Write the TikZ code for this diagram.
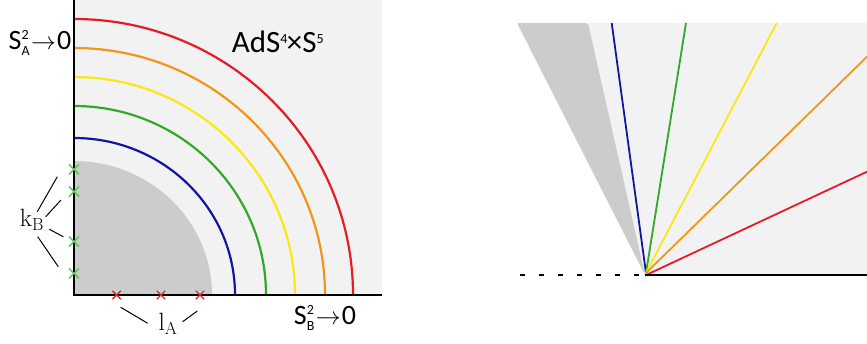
\documentclass[tikz,border=0pt]{standalone}
\usepackage{fontspec}
\newfontfamily\calib{Carlito}
\definecolor{bgl}{RGB}{242,242,242}
\definecolor{bgd}{RGB}{204,204,204}
\definecolor{cred}{RGB}{228,28,40}
\definecolor{corange}{RGB}{240,150,24}
\definecolor{cyellow}{RGB}{250,232,20}
\definecolor{cgreen}{RGB}{50,168,40}
\definecolor{cblue}{RGB}{20,20,160}
\definecolor{xgreen}{RGB}{90,195,90}
\definecolor{xred}{RGB}{220,40,40}
\tikzset{
  axis/.style={line width=2pt,black},
  curve/.style={line width=2.2pt},
  ray/.style={line width=1.8pt},
  ptr/.style={line width=1pt,black},
  gx/.style={draw=xgreen,line width=1.4pt},
  rx/.style={draw=xred,line width=1.4pt},
  sanslab/.style={font=\calib\fontsize{28}{30}\selectfont,inner sep=0pt},
  adslab/.style={font=\calib\fontsize{31}{33}\selectfont,inner sep=0pt},
  serlab/.style={font=\fontsize{25}{28}\selectfont,inner sep=0pt}
}
\newcommand{\smallsans}[1]{\hbox{\calib\fontsize{14}{14}\selectfont #1}}
\newcommand{\cross}[3]{\draw[#1] ($(#2)+(-#3,-#3)$) -- ($(#2)+(#3,#3)$) ($(#2)+(-#3,#3)$) -- ($(#2)+(#3,-#3)$);}
\usetikzlibrary{calc}
\begin{document}
\begin{tikzpicture}[x=1pt,y=1pt]
\useasboundingbox (0,0) rectangle (867,343);
% ---------- left panel ----------
\coordinate (O) at (74,48);
\fill[bgl] (74,48) rectangle (382,343);
\fill[bgd] (O) -- ++(138,0) arc[start angle=0,end angle=90,x radius=138pt,y radius=134pt] -- cycle;
\draw[curve,cblue]   (O) ++(161,0) arc[start angle=0,end angle=90,x radius=161pt,y radius=157pt];
\draw[curve,cgreen]  (O) ++(192,0) arc[start angle=0,end angle=90,x radius=192pt,y radius=189pt];
\draw[curve,cyellow] (O) ++(221,0) arc[start angle=0,end angle=90,x radius=221pt,y radius=218pt];
\draw[curve,corange] (O) ++(251,0) arc[start angle=0,end angle=90,x radius=251pt,y radius=247pt];
\draw[curve,cred]    (O) ++(279,0) arc[start angle=0,end angle=90,x radius=279pt,y radius=276pt];
\coordinate (ytop) at (74,343);
\coordinate (xend) at (382,48);
\draw[axis] (ytop) -- (O) -- (xend);
% crosses
\coordinate (g1) at (74,173.7);
\coordinate (g2) at (74,151.3);
\coordinate (g3) at (74,101.3);
\coordinate (g4) at (74,69.7);
\coordinate (r1) at (116.7,48);
\coordinate (r2) at (161,48);
\coordinate (r3) at (200,48);
\cross{gx}{g1}{5}
\cross{gx}{g2}{5}
\cross{gx}{g3}{5}
\cross{gx}{g4}{5}
\cross{rx}{r1}{4.2}
\cross{rx}{r2}{4.2}
\cross{rx}{r3}{4.2}
% labels
\node[serlab] (kB) at (32,123) {k$_{\mathrm{B}}$};
\coordinate (k1a) at (37.3,131.3); \coordinate (k1b) at (57.3,166.3);
\coordinate (k2a) at (45.7,126.3); \coordinate (k2b) at (61,143);
\coordinate (k3a) at (49.3,113.7); \coordinate (k3b) at (63.3,106.3);
\coordinate (k4a) at (37.7,106.3); \coordinate (k4b) at (58.3,76.3);
\draw[ptr] (k1a) -- (k1b) (k2a) -- (k2b) (k3a) -- (k3b) (k4a) -- (k4b);
\node[serlab] (lA) at (168,19) {l$_{\mathrm{A}}$};
\coordinate (l1a) at (120.7,35.7); \coordinate (l1b) at (147.7,19.7);
\coordinate (l2a) at (182.7,21.3); \coordinate (l2b) at (197.3,32);
\draw[ptr] (l1a) -- (l1b) (l2a) -- (l2b);
\node[sanslab] (SA) at (40,300) {S$^{\smallsans{2}}_{\smallsans{A}}$\kern1pt$\rightarrow$\kern1pt0};
\node[sanslab] (SB) at (325,25) {S$^{\smallsans{2}}_{\smallsans{B}}$\kern1pt$\rightarrow$\kern1pt0};
\node[adslab] (AdS) at (278,301) {AdS$^{\smallsans{4}}$\kern-1pt×S$^{\smallsans{5}}$};
% ---------- right panel ----------
\coordinate (A) at (646,70);
\fill[bgl] (588,320) -- (867,320) -- (867,68) -- (645,68) -- cycle;
\fill[bgd, rounded corners=2pt] (517,320) -- (588,320) -- (645,68) -- cycle;
\coordinate (eb) at (611.7,320);
\coordinate (eg) at (686,320);
\coordinate (ey) at (776.7,320);
\coordinate (eo) at (867,286.3);
\coordinate (er) at (867,171.3);
\draw[ray,cblue] (A) -- (eb);
\draw[ray,cgreen] (A) -- (eg);
\draw[ray,cyellow] (A) -- (ey);
\draw[ray,corange] (A) -- (eo);
\draw[ray,cred] (645,67.5) -- (er);
\coordinate (hb) at (645,68);
\coordinate (he) at (867,68);
\coordinate (da) at (520,68);
\coordinate (db) at (639,68);
\draw[axis] (hb) -- (he);
\draw[axis,dash pattern=on 5pt off 14pt] (da) -- (db);
\end{tikzpicture}
\end{document}
